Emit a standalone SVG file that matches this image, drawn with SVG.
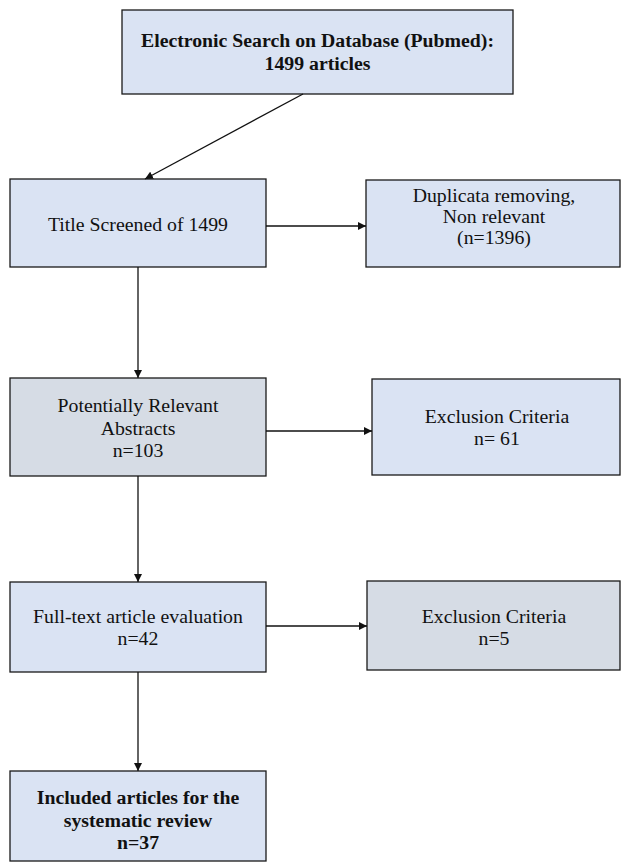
<svg xmlns="http://www.w3.org/2000/svg" width="624" height="863" viewBox="0 0 624 863">
<style>
.box{stroke:#1a1a1a;stroke-width:1.3}
.blue{fill:#dae3f3}
.grey{fill:#d6dce5}
text{font-family:"Liberation Serif","Times New Roman",serif;font-size:19.8px;fill:#111;text-anchor:middle}
.b{font-weight:bold}
.conn line{stroke:#111;stroke-width:1.3}
</style>
<defs>
<marker id="ah" viewBox="0 0 10 10" refX="10" refY="5" markerWidth="8" markerHeight="8" markerUnits="userSpaceOnUse" orient="auto">
<path d="M0,0 L10,5 L0,10 z" fill="#111"/>
</marker>
</defs>
<rect width="624" height="863" fill="#fff"/>
<g id="search">
<rect class="box blue" x="122" y="10" width="391" height="84"/>
<text class="b" x="317.5" y="47">Electronic Search on Database (Pubmed):</text>
<text class="b" x="317.5" y="70">1499 articles</text>
</g>
<g id="title">
<rect class="box blue" x="10" y="179" width="256" height="88"/>
<text x="138" y="231">Title Screened of 1499</text>
</g>
<g id="duplicata">
<rect class="box blue" x="366" y="180" width="254" height="87"/>
<text x="494" y="202">Duplicata removing,</text>
<text x="494" y="223">Non relevant</text>
<text x="494" y="244">(n=1396)</text>
</g>
<g id="abstracts">
<rect class="box grey" x="10" y="378" width="256" height="98"/>
<text x="138" y="412">Potentially Relevant</text>
<text x="138" y="435">Abstracts</text>
<text x="138" y="457">n=103</text>
</g>
<g id="excl61">
<rect class="box blue" x="372" y="379" width="248" height="96"/>
<text x="497" y="423">Exclusion Criteria</text>
<text x="497" y="445">n= 61</text>
</g>
<g id="fulltext">
<rect class="box blue" x="10" y="582" width="256" height="90"/>
<text x="138" y="623">Full-text article evaluation</text>
<text x="138" y="645">n=42</text>
</g>
<g id="excl5">
<rect class="box grey" x="367" y="581" width="253" height="89"/>
<text x="494" y="623">Exclusion Criteria</text>
<text x="494" y="645">n=5</text>
</g>
<g id="included">
<rect class="box blue" x="10" y="771" width="256" height="90"/>
<text class="b" x="138" y="804">Included articles for the</text>
<text class="b" x="138" y="827">systematic review</text>
<text class="b" x="138" y="849">n=37</text>
</g>
<g class="conn" id="connectors">
<line x1="303" y1="94" x2="145" y2="179" marker-end="url(#ah)"/>
<line x1="266" y1="226" x2="366" y2="226" marker-end="url(#ah)"/>
<line x1="138" y1="267" x2="138" y2="378" marker-end="url(#ah)"/>
<line x1="266" y1="431" x2="372" y2="431" marker-end="url(#ah)"/>
<line x1="138" y1="476" x2="138" y2="582" marker-end="url(#ah)"/>
<line x1="266" y1="626" x2="367" y2="626" marker-end="url(#ah)"/>
<line x1="138" y1="672" x2="138" y2="771" marker-end="url(#ah)"/>
</g>
</svg>
